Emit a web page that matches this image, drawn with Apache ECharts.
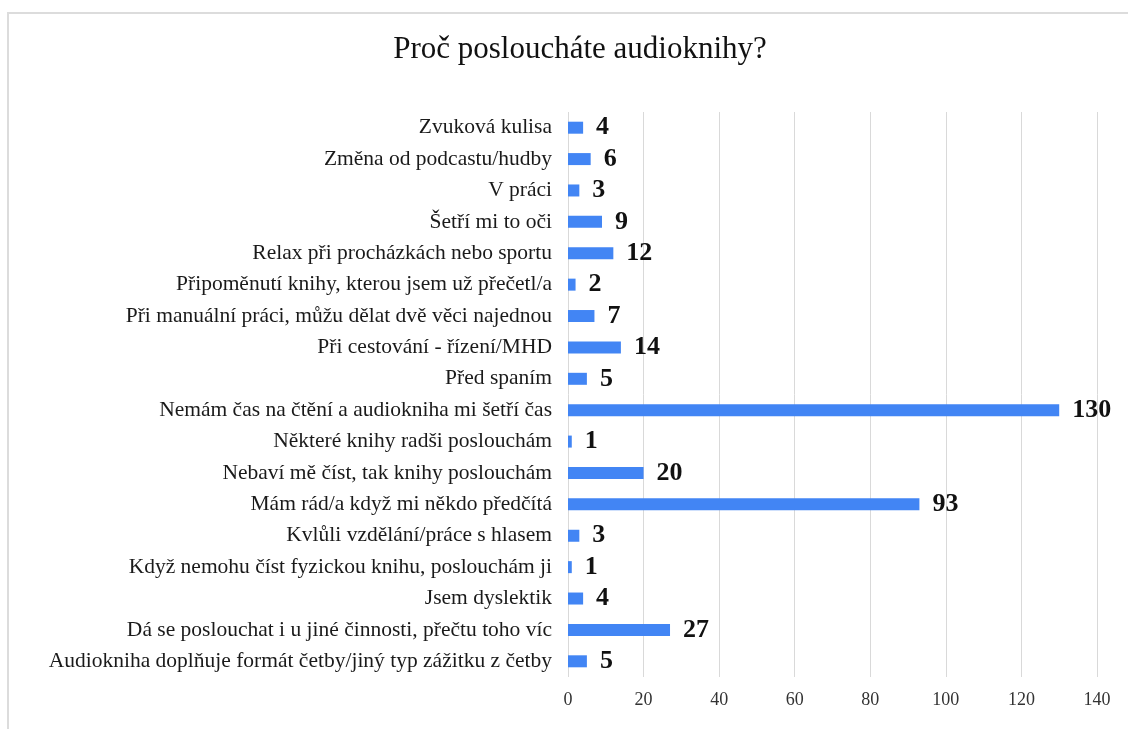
<!DOCTYPE html>
<html>
<head>
<meta charset="utf-8">
<script src="https://cdn.jsdelivr.net/npm/echarts@6/dist/echarts.min.js"></script>
<style>
  html, body { margin: 0; padding: 0; background: #fff; }
  #chart { width: 1128px; height: 729px; }
</style>
</head>
<body>
<div id="chart"></div>
<script>
const TITLE = "Proč posloucháte audioknihy?";

// top to bottom, as in the picture
const categories = [
  "Zvuková kulisa",
  "Změna od podcastu/hudby",
  "V práci",
  "Šetří mi to oči",
  "Relax při procházkách nebo sportu",
  "Připoměnutí knihy, kterou jsem už přečetl/a",
  "Při manuální práci, můžu dělat dvě věci najednou",
  "Při cestování - řízení/MHD",
  "Před spaním",
  "Nemám čas na čtění a audiokniha mi šetří čas",
  "Některé knihy radši poslouchám",
  "Nebaví mě číst, tak knihy poslouchám",
  "Mám rád/a když mi někdo předčítá",
  "Kvlůli vzdělání/práce s hlasem",
  "Když nemohu číst fyzickou knihu, poslouchám ji",
  "Jsem dyslektik",
  "Dá se poslouchat i u jiné činnosti, přečtu toho víc",
  "Audiokniha doplňuje formát četby/jiný typ zážitku z četby"
];
const counts = [4, 6, 3, 9, 12, 2, 7, 14, 5, 130, 1, 20, 93, 3, 1, 4, 27, 5];

const xMin = 0;
const xMax = 140;
const xStep = 20;

const SERIF = "'Liberation Serif', 'DejaVu Serif', serif";
const BAR = "#4285f4";

const chart = echarts.init(document.getElementById("chart"), null, { renderer: "canvas" });
chart.setOption({
  animation: false,
  backgroundColor: "#fff",
  title: {
    text: TITLE,
    left: 575,
    top: 29,
    textAlign: "center",
    textStyle: { fontFamily: SERIF, fontSize: 31, fontWeight: "normal", color: "#111" }
  },
  graphic: [{
    type: "rect",
    shape: { x: 8, y: 13, width: 1140, height: 740 },
    style: { fill: "none", stroke: "#dcdcdc", lineWidth: 2 },
    silent: true
  }],
  grid: { top: 112, bottom: 52, left: 568, right: 31, containLabel: false },
  xAxis: {
    type: "value",
    min: xMin,
    max: xMax,
    interval: xStep,
    axisLine: { show: false },
    axisTick: { show: false },
    axisLabel: { fontFamily: SERIF, fontSize: 18, color: "#333", margin: 14 },
    splitLine: { lineStyle: { color: "#d9d9d9", width: 1 } }
  },
  yAxis: {
    type: "category",
    inverse: true,
    data: categories,
    axisLine: { show: false },
    axisTick: { show: false },
    axisLabel: { fontFamily: SERIF, fontSize: 21.5, color: "#1a1a1a", margin: 16 }
  },
  series: [{
    type: "bar",
    data: counts,
    barWidth: 12,
    itemStyle: { color: BAR },
    label: {
      show: true,
      position: "right",
      distance: 13,
      fontFamily: SERIF,
      fontSize: 26,
      fontWeight: "bold",
      color: "#111"
    }
  }]
});
</script>
</body>
</html>
